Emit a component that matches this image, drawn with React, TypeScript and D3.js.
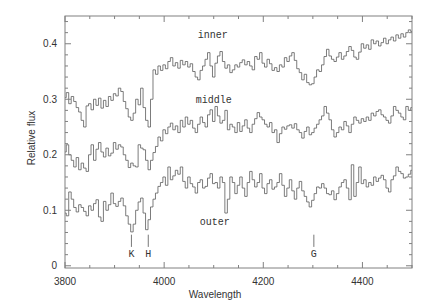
import React from "react";
import * as d3 from "d3";

const W = 436;
const H = 303;

// wavelength sampling grid (Angstrom), 5 A bins from 3800 to 4500
const wavelengths: number[] = d3.range(3800, 4501, 5);

const innerFlux: number[] = [
  0.303, 0.312, 0.292, 0.305, 0.296, 0.285, 0.277, 0.262, 0.250, 0.288,
  0.292, 0.281, 0.300, 0.289, 0.302, 0.284, 0.298, 0.287, 0.305, 0.298,
  0.310, 0.306, 0.320, 0.314, 0.296, 0.283, 0.268, 0.262, 0.275, 0.300,
  0.290, 0.320, 0.285, 0.262, 0.250, 0.300, 0.353, 0.345, 0.360, 0.352,
  0.362, 0.355, 0.368, 0.375, 0.360, 0.366, 0.356, 0.370, 0.362, 0.368,
  0.358, 0.364, 0.350, 0.340, 0.335, 0.352, 0.360, 0.372, 0.384, 0.360,
  0.340, 0.365, 0.378, 0.386, 0.368, 0.356, 0.362, 0.348, 0.353, 0.362,
  0.358, 0.366, 0.371, 0.362, 0.368, 0.360, 0.353, 0.377, 0.372, 0.384,
  0.365, 0.358, 0.372, 0.364, 0.352, 0.357, 0.350, 0.362, 0.358, 0.375,
  0.368, 0.378, 0.384, 0.370, 0.355, 0.348, 0.335, 0.345, 0.330, 0.326,
  0.328, 0.340, 0.353, 0.350, 0.362, 0.377, 0.390, 0.378, 0.372, 0.368,
  0.376, 0.384, 0.372, 0.378, 0.386, 0.395, 0.388, 0.376, 0.372, 0.385,
  0.400, 0.392, 0.398, 0.390, 0.407, 0.400, 0.405, 0.396, 0.402, 0.410,
  0.400, 0.407, 0.412, 0.405, 0.416, 0.410, 0.418, 0.412, 0.420, 0.425,
  0.422,
];

const middleFlux: number[] = [
  0.205, 0.218, 0.200, 0.190, 0.178, 0.195, 0.173, 0.185, 0.176, 0.170,
  0.200, 0.218, 0.190, 0.210, 0.222, 0.205, 0.196, 0.212, 0.198, 0.203,
  0.222, 0.210, 0.218, 0.214, 0.200, 0.190, 0.177, 0.185, 0.180, 0.178,
  0.218, 0.212, 0.209, 0.190, 0.173, 0.190, 0.204, 0.215, 0.232, 0.225,
  0.245, 0.238, 0.250, 0.257, 0.245, 0.252, 0.240, 0.262, 0.250, 0.268,
  0.255, 0.262, 0.248, 0.240, 0.255, 0.268, 0.258, 0.250, 0.272, 0.281,
  0.260, 0.287, 0.270, 0.257, 0.262, 0.280, 0.245, 0.255, 0.250, 0.240,
  0.258, 0.242, 0.252, 0.263, 0.248, 0.240, 0.255, 0.265, 0.276, 0.268,
  0.263, 0.255, 0.250, 0.258, 0.240, 0.245, 0.222, 0.238, 0.250, 0.246,
  0.252, 0.254, 0.248, 0.256, 0.245, 0.240, 0.230, 0.242, 0.250, 0.236,
  0.240, 0.248, 0.255, 0.263, 0.270, 0.287, 0.275, 0.263, 0.245, 0.232,
  0.240, 0.250, 0.245, 0.260, 0.252, 0.240, 0.255, 0.268, 0.262, 0.257,
  0.265, 0.260, 0.268, 0.262, 0.275, 0.270, 0.278, 0.281, 0.272, 0.268,
  0.262, 0.257, 0.270, 0.287, 0.280, 0.275, 0.268, 0.263, 0.287, 0.280,
  0.285,
];

const outerFlux: number[] = [
  0.095, 0.090, 0.133, 0.120, 0.105, 0.097, 0.110, 0.105, 0.098, 0.090,
  0.108, 0.100, 0.112, 0.119, 0.088, 0.080, 0.116, 0.100, 0.110, 0.131,
  0.112, 0.107, 0.116, 0.122, 0.108, 0.090, 0.075, 0.061, 0.075, 0.100,
  0.115, 0.122, 0.095, 0.065, 0.083, 0.106, 0.120, 0.131, 0.143, 0.150,
  0.160, 0.145, 0.178, 0.155, 0.162, 0.172, 0.165, 0.178, 0.152, 0.140,
  0.160, 0.148, 0.142, 0.131, 0.150, 0.155, 0.140, 0.143, 0.158, 0.166,
  0.148, 0.150, 0.140, 0.160, 0.150, 0.095, 0.120, 0.160, 0.150, 0.130,
  0.145, 0.160, 0.140, 0.125, 0.150, 0.170, 0.155, 0.142, 0.150, 0.166,
  0.140, 0.130, 0.148, 0.155, 0.138, 0.142, 0.150, 0.166, 0.145, 0.125,
  0.140, 0.155, 0.135, 0.120, 0.140, 0.152, 0.135, 0.125, 0.115, 0.106,
  0.118, 0.130, 0.142, 0.140, 0.148, 0.140, 0.130, 0.128, 0.135, 0.119,
  0.130, 0.142, 0.150, 0.155, 0.140, 0.119, 0.182, 0.125, 0.150, 0.178,
  0.148, 0.155, 0.142, 0.150, 0.145, 0.160, 0.152, 0.158, 0.163, 0.155,
  0.140, 0.133, 0.155, 0.162, 0.178, 0.170, 0.166, 0.158, 0.160, 0.165,
  0.172,
];

const seriesNames = ["inner", "middle", "outer"];
const seriesLabelPos = [
  { lambda: 4098, flux: 0.416 },
  { lambda: 4100, flux: 0.299 },
  { lambda: 4102, flux: 0.080 },
];

const lineNames = ["K", "H", "G"];
const lineWavelengths = [3934, 3968, 4302];

const xMajorTicks = [3800, 4000, 4200, 4400];
const xMinorTicks = d3.range(3800, 4501, 50);
const yMajorTicks = [0, 0.1, 0.2, 0.3, 0.4];
const yMinorTicks = d3.range(0, 0.451, 0.02);

const margin = { left: 65, right: 24, top: 16, bottom: 35 };

export default function App() {
  const x = d3
    .scaleLinear()
    .domain([3800, 4500])
    .range([margin.left, W - margin.right]);
  const y = d3
    .scaleLinear()
    .domain([-0.004, 0.45])
    .range([H - margin.bottom, margin.top]);

  const series = [innerFlux, middleFlux, outerFlux];
  const line = d3
    .line<number>()
    .x((_, i) => x(wavelengths[i]))
    .y((d) => y(d))
    .curve(d3.curveStep);

  const x0 = margin.left;
  const x1 = W - margin.right;
  const y0 = H - margin.bottom;
  const y1 = margin.top;
  const axisColor = "#808080";
  const textColor = "#333";
  const font = "Liberation Sans, Arial, sans-serif";
  const mono = "Liberation Mono, Courier New, monospace";

  return (
    <svg
      width={W}
      height={H}
      style={{ position: "absolute", left: 0, top: 0, background: "#fff" }}
    >
      <rect x={0} y={0} width={W} height={H} fill="#fff" />
      <defs>
        <clipPath id="plotclip">
          <rect x={x0} y={y1} width={x1 - x0} height={y0 - y1} />
        </clipPath>
      </defs>
      {/* spectra */}
      <g clipPath="url(#plotclip)">
        {series.map((s, i) => (
          <path
            key={i}
            d={line(s) || ""}
            fill="none"
            stroke="#5a5a5a"
            strokeWidth={0.8}
          />
        ))}
      </g>
      {/* frame */}
      <rect
        x={x0}
        y={y1}
        width={x1 - x0}
        height={y0 - y1}
        fill="none"
        stroke={axisColor}
        strokeWidth={1}
      />
      {/* x ticks */}
      {xMinorTicks.map((t) => {
        const major = xMajorTicks.includes(t);
        const len = major ? 6 : 3;
        return (
          <g key={"xt" + t}>
            <line x1={x(t)} x2={x(t)} y1={y0} y2={y0 - len} stroke={axisColor} />
            <line x1={x(t)} x2={x(t)} y1={y1} y2={y1 + len} stroke={axisColor} />
          </g>
        );
      })}
      {xMajorTicks.map((t) => (
        <text
          key={"xl" + t}
          x={x(t)}
          y={y0 + 17}
          textAnchor="middle"
          fontFamily={font}
          fontSize={10}
          fill={textColor}
        >
          {t}
        </text>
      ))}
      {/* y ticks */}
      {yMinorTicks.map((t) => {
        const major = yMajorTicks.some((m) => Math.abs(m - t) < 1e-6);
        const len = major ? 6 : 3;
        return (
          <g key={"yt" + t.toFixed(2)}>
            <line x1={x0} x2={x0 + len} y1={y(t)} y2={y(t)} stroke={axisColor} />
            <line x1={x1} x2={x1 - len} y1={y(t)} y2={y(t)} stroke={axisColor} />
          </g>
        );
      })}
      {yMajorTicks.map((t) => (
        <text
          key={"yl" + t}
          x={x0 - 8}
          y={y(t)}
          dy="0.35em"
          textAnchor="end"
          fontFamily={font}
          fontSize={10}
          fill={textColor}
        >
          {t === 0 ? "0" : t.toFixed(1)}
        </text>
      ))}
      {/* axis titles */}
      <text
        x={215}
        y={H - 5}
        textAnchor="middle"
        fontFamily={font}
        fontSize={10}
        fill={textColor}
      >
        Wavelength
      </text>
      <text
        transform={`translate(35,138) rotate(-90)`}
        textAnchor="middle"
        fontFamily={font}
        fontSize={10}
        fill={textColor}
      >
        Relative flux
      </text>
      {/* series labels */}
      {seriesNames.map((n, i) => (
        <text
          key={n}
          x={x(seriesLabelPos[i].lambda)}
          y={y(seriesLabelPos[i].flux)}
          dy="0.35em"
          textAnchor="middle"
          fontFamily={mono}
          fontSize={10}
          fill={textColor}
        >
          {n}
        </text>
      ))}
      {/* absorption line markers */}
      {lineNames.map((n, i) => (
        <g key={n}>
          <line
            x1={x(lineWavelengths[i])}
            x2={x(lineWavelengths[i])}
            y1={y(0.056)}
            y2={y(0.034)}
            stroke="#555"
            strokeWidth={0.8}
          />
          <text
            x={x(lineWavelengths[i])}
            y={y(0.022)}
            dy="0.35em"
            textAnchor="middle"
            fontFamily={mono}
            fontSize={10}
            fill={textColor}
          >
            {n}
          </text>
        </g>
      ))}
    </svg>
  );
}
